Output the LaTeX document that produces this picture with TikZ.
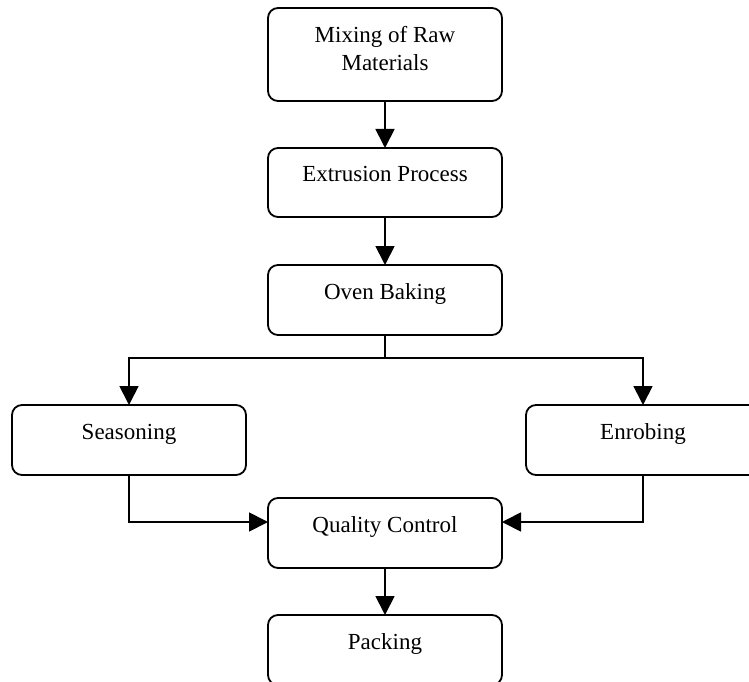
\documentclass[tikz,border=0pt]{standalone}
\usepackage{fontspec}
\setmainfont{Liberation Serif}
\usetikzlibrary{arrows.meta}

\tikzset{
  stagebox/.style={draw=black, line width=1.8pt, rounded corners=10pt,
    minimum width=234pt, minimum height=70pt, inner sep=0pt, outer sep=0pt,
    font=\fontsize{23}{28}\selectfont, align=center},
  oneline/.style={text height=16pt, text depth=18pt},
  flow/.style={line width=1.8pt, -{Triangle[length=19pt, width=19pt]}},
  link/.style={line width=1.8pt}
}

\begin{document}
\begin{tikzpicture}[x=1pt, y=-1pt]
  \useasboundingbox (0,0) rectangle (749,682);
  \clip (0,0) rectangle (749,682);

  % process stages
  \node[stagebox, minimum height=93pt] (mix) at (385,54.5) {Mixing of Raw\\Materials\\[-16pt]\mbox{}};
  \node[stagebox, oneline, minimum height=69pt] (ext) at (385,182.5) {Extrusion Process};
  \node[stagebox, oneline] (oven) at (385,300) {Oven Baking};
  \node[stagebox, oneline] (seas) at (129,440) {Seasoning};
  \node[stagebox, oneline] (enrob) at (643,440) {Enrobing};
  \node[stagebox, oneline] (qc) at (385,533) {Quality Control};
  \node[stagebox, oneline] (pack) at (385,650) {Packing};

  % main line
  \draw[flow] (mix) -- (ext);
  \draw[flow] (ext) -- (oven);

  % split after baking
  \draw[link] (oven.south) -- ++(0,23) coordinate (split);
  \draw[flow] (split) -| (seas.north);
  \draw[flow] (split) -| (enrob.north);

  % merge into quality control
  \draw[flow] (seas.south) |- ([yshift=11pt]qc.west);
  \draw[flow] (enrob.south) |- ([yshift=11pt]qc.east);

  \draw[flow] (qc) -- (pack);
\end{tikzpicture}
\end{document}
